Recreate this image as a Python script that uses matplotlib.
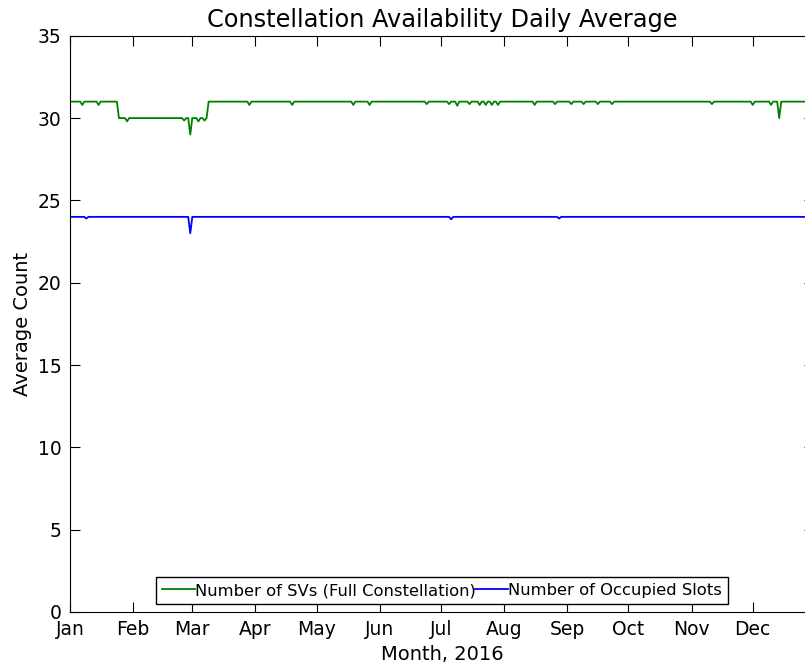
import pandas as pd
import matplotlib
matplotlib.use('Agg')
import matplotlib.pyplot as plt
import matplotlib.dates as mdates

# days of 2016
dates = pd.date_range('2016-01-01', '2016-12-31', freq='D')

# Number of SVs (full constellation): base level, one low period, single-day dips
sv_base = 31.0
sv_low_start = '2016-01-25'
sv_low_end = '2016-03-08'
sv_low_value = 30.0
sv_dip_dates = ['2016-01-07', '2016-01-15', '2016-01-29', '2016-02-26', '2016-02-29',
                '2016-03-04', '2016-03-07', '2016-03-29', '2016-04-19', '2016-05-19',
                '2016-05-27', '2016-06-24', '2016-07-05', '2016-07-09', '2016-07-15',
                '2016-07-20', '2016-07-23', '2016-07-26', '2016-07-29', '2016-08-16',
                '2016-08-26', '2016-09-03', '2016-09-09', '2016-09-16', '2016-09-23',
                '2016-11-11', '2016-12-01', '2016-12-10', '2016-12-14']
sv_dip_values = [30.8, 30.8, 29.8, 29.85, 29.0,
                 29.8, 29.85, 30.8, 30.8, 30.8,
                 30.8, 30.85, 30.85, 30.75, 30.85,
                 30.8, 30.8, 30.8, 30.8, 30.8,
                 30.85, 30.85, 30.85, 30.85, 30.85,
                 30.85, 30.8, 30.8, 30.0]

# Number of occupied slots
slots_base = 24.0
slots_dip_dates = ['2016-01-09', '2016-02-29', '2016-07-06', '2016-08-28']
slots_dip_values = [23.9, 23.0, 23.85, 23.9]

sv = pd.Series(sv_base, index=dates)
sv[sv_low_start:sv_low_end] = sv_low_value
sv[pd.to_datetime(sv_dip_dates)] = sv_dip_values

slots = pd.Series(slots_base, index=dates)
slots[pd.to_datetime(slots_dip_dates)] = slots_dip_values

fig = plt.figure(figsize=(8.05, 6.7), dpi=100)
ax = fig.add_axes([0.087, 0.0866, 0.924, 0.860])

ax.plot(sv.index, sv.values, color=(0, 0.5, 0), lw=1.3, label='Number of SVs (Full Constellation)')
ax.plot(slots.index, slots.values, color='blue', lw=1.3, label='Number of Occupied Slots')

ax.set_ylim(0, 35)
ax.set_xlim(dates[0], dates[-1])
ax.xaxis.set_major_locator(mdates.MonthLocator())
ax.xaxis.set_major_formatter(mdates.DateFormatter('%b'))
ax.tick_params(direction='in', top=True, right=True, labelsize=13.5, length=7, pad=6)

ax.set_title('Constellation Availability Daily Average', fontsize=17.3)
ax.set_xlabel('Month, 2016', fontsize=14)
ax.set_ylabel('Average Count', fontsize=14)

leg = ax.legend(loc='lower center', ncol=2, fontsize=11.8, handlelength=2.0,
                handletextpad=0.0, columnspacing=0.0, borderpad=0.35,
                fancybox=False, framealpha=1, bbox_to_anchor=(0.5, 0.0))
leg.get_frame().set_edgecolor('black')

fig.savefig('out.png', dpi=100)
